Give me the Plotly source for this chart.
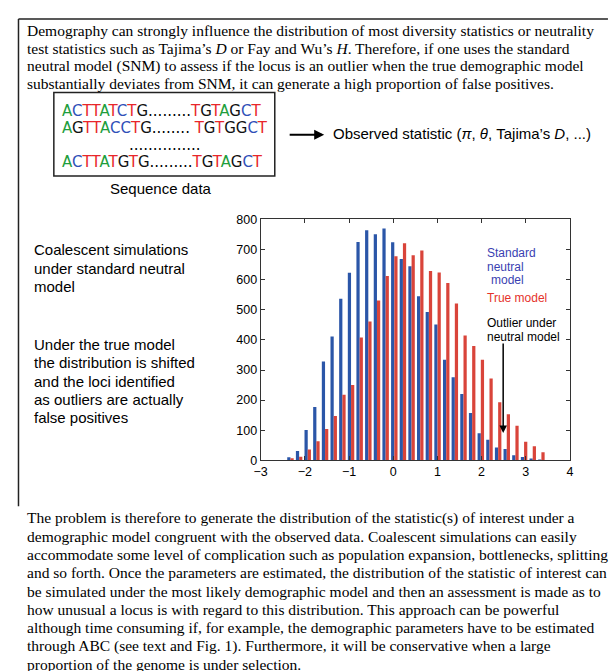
import plotly.graph_objects as go

W, H = 609, 671

# ---------------- data ----------------
bin_centers = [-2.325, -2.129, -1.934, -1.738, -1.542, -1.346, -1.150, -0.954, -0.759, -0.563,
               -0.367, -0.171, 0.025, 0.220, 0.416, 0.612, 0.808, 1.004, 1.200, 1.395,
               1.591, 1.787, 1.983, 2.179, 2.375, 2.570, 2.766, 2.962, 3.158, 3.354]
standard_neutral = [10, 31, 101, 177, 328, 411, 537, 623, 725, 764,
                    751, 770, 724, 669, 645, 545, 493, 451, 334, 276,
                    220, 157, 90, 68, 43, 38, 17, 11, 3, 2]
true_model = [7, 12, 36, 63, 104, 147, 218, 250, 408, 461,
              531, 612, 678, 721, 681, 697, 629, 624, 589, 521,
              415, 380, 334, 272, 193, 153, 115, 62, 47, 27]
x_ticks = [-3, -2, -1, 0, 1, 2, 3, 4]
y_ticks = [0, 100, 200, 300, 400, 500, 600, 700, 800]

top_lines = [
    "Demography can strongly influence the distribution of most diversity statistics or neutrality",
    "test statistics such as Tajima’s <i>D</i> or Fay and Wu’s <i>H</i>. Therefore, if one uses the standard",
    "neutral model (SNM) to assess if the locus is an outlier when the true demographic model",
    "substantially deviates from SNM, it can generate a high proportion of false positives.",
]
bottom_lines = [
    "The problem is therefore to generate the distribution of the statistic(s) of interest under a",
    "demographic model congruent with the observed data. Coalescent simulations can easily",
    "accommodate some level of complication such as population expansion, bottlenecks, splitting",
    "and so forth. Once the parameters are estimated, the distribution of the statistic of interest can",
    "be simulated under the most likely demographic model and then an assessment is made as to",
    "how unusual a locus is with regard to this distribution. This approach can be powerful",
    "although time consuming if, for example, the demographic parameters have to be estimated",
    "through ABC (see text and Fig. 1). Furthermore, it will be conservative when a large",
    "proportion of the genome is under selection.",
]
left_block1 = ["Coalescent simulations", "under standard neutral", "model"]
left_block2 = ["Under the true model", "the distribution is shifted", "and the loci identified",
               "as outliers are actually", "false positives"]
sequences = ["ACTTATCTG.........TGTAGCT", "AGTTACCTG........ TGTGGCT", "ACTTATGTG.........TGTAGCT"]

# ---------------- styles ----------------
BLUE_BAR = "#2b56a8"
RED_BAR = "#d9443a"
BLUE_TXT = "#3a3fb2"
RED_TXT = "#e5322b"
SERIF = "Liberation Serif, Times New Roman, serif"
SANS = "Liberation Sans, Arial, sans-serif"
NUC = {"A": "#1e9e3c", "C": "#2f4fb8", "T": "#e8262a", "G": "#111111"}


def px(x):
    return x / W


def py(y):
    return 1 - y / H


fig = go.Figure()
fig.add_trace(go.Bar(x=bin_centers, y=standard_neutral, marker=dict(color=BLUE_BAR, line=dict(width=0)),
                     name="Standard neutral model"))
fig.add_trace(go.Bar(x=bin_centers, y=true_model, marker=dict(color=RED_BAR, line=dict(width=0)),
                     name="True model"))

ann = []


def text(x, y, s, size=15, family=SANS, color="black", anchor="left"):
    ann.append(dict(x=px(x), y=py(y), xref="paper", yref="paper", text=s, showarrow=False,
                    xanchor=anchor, yanchor="middle", font=dict(size=size, family=family, color=color)))


for i, s in enumerate(top_lines):
    text(18.5, 24 + 18.2 * i, s, size=15.5, family=SERIF)
for i, s in enumerate(bottom_lines):
    text(18.5, 521.7 + 18.75 * i, s, size=15.5, family=SERIF)
for i, s in enumerate(left_block1):
    text(25, 248 + 18.8 * i, s, size=15)
for i, s in enumerate(left_block2):
    text(25, 345 + 18.5 * i, s, size=15)


def colour_seq(s):
    out = []
    for ch in s:
        if ch in NUC:
            out.append(f"<span style='color:{NUC[ch]}'>{ch}</span>")
        else:
            out.append(ch)
    return "".join(out)


for s, y in zip(sequences, [106, 123.3, 158.3]):
    text(54, y, colour_seq(s), size=15, family="DejaVu Sans")
text(161, 141, "...............", size=15, family="DejaVu Sans", anchor="center")
text(157, 185, "Sequence data", size=15, anchor="center")
text(330, 129, "Observed statistic (<i>π</i>, <i>θ</i>, Tajima’s <i>D</i>, ...)", size=15)

# horizontal arrow
ann.append(dict(x=px(323), y=py(130.5), xref="paper", yref="paper", ax=-36, ay=0, text="",
                showarrow=True, arrowhead=2, arrowsize=1, arrowwidth=2, arrowcolor="black"))

# labels inside the chart
text(487.3, 251.7, "Standard", size=12, color=BLUE_TXT)
text(487.3, 265.7, "neutral", size=12, color=BLUE_TXT)
text(490.7, 279.3, "model", size=12, color=BLUE_TXT)
text(487.3, 297.7, "True model", size=12, color=RED_TXT)
text(487.3, 322.3, "Outlier under", size=12)
text(487.3, 336.7, "neutral model", size=12)
ann.append(dict(x=px(505.3), y=py(435), xref="paper", yref="paper", ax=0, ay=-91, text="",
                showarrow=True, arrowhead=2, arrowsize=1, arrowwidth=1.5, arrowcolor="black"))

shapes = [
    dict(type="line", xref="paper", yref="paper", x0=px(11.7), x1=px(612), y0=py(12.3), y1=py(12.3),
         line=dict(color="#222222", width=1.5)),
    dict(type="line", xref="paper", yref="paper", x0=px(11.7), x1=px(11.7), y0=py(12.3), y1=py(510),
         line=dict(color="#222222", width=1.5)),
    dict(type="rect", xref="paper", yref="paper", x0=px(47.7), x1=px(272.7), y0=py(87.3), y1=py(172.7),
         line=dict(color="#222222", width=1.5)),
]

axis_common = dict(showline=True, linecolor="#333333", linewidth=1, mirror="allticks", ticks="inside",
                   ticklen=4, tickcolor="#333333", showgrid=False, zeroline=False,
                   tickfont=dict(family=SANS, size=12.5, color="black"))

fig.update_layout(
    width=W, height=H, margin=dict(l=0, r=0, t=0, b=0),
    paper_bgcolor="white", plot_bgcolor="white", showlegend=False,
    barmode="group", bargap=0.25, bargroupgap=0,
    xaxis=dict(domain=[px(258.3), px(573.3)], range=[-3, 4], tickvals=x_ticks, **axis_common),
    yaxis=dict(domain=[py(463), py(217)], range=[0, 800], tickvals=y_ticks, **axis_common),
    annotations=ann, shapes=shapes,
)

fig.write_html("out.html", config=dict(displayModeBar=False),
               post_script="document.body.style.margin='0';document.body.style.overflow='hidden';")
